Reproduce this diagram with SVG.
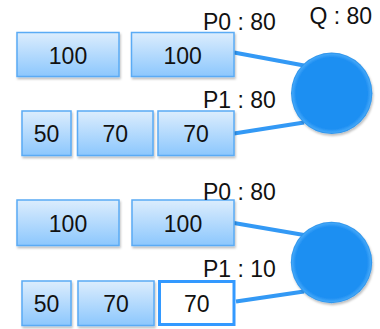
<svg xmlns="http://www.w3.org/2000/svg" width="380" height="329" viewBox="0 0 380 329">
  <defs>
    <linearGradient id="boxFill" x1="0" y1="0" x2="0" y2="1">
      <stop offset="0" stop-color="#dcedfd"/>
      <stop offset="1" stop-color="#8cc7fd"/>
    </linearGradient>
    <radialGradient id="ballFill" cx="0.5" cy="0.5" r="0.5">
      <stop offset="0" stop-color="#1f8ff2"/>
      <stop offset="0.88" stop-color="#1f8ff2"/>
      <stop offset="0.96" stop-color="#3fa5f8"/>
      <stop offset="1" stop-color="#2a8fe6"/>
    </radialGradient>
    <filter id="shadow" x="-20%" y="-20%" width="140%" height="150%">
      <feDropShadow dx="1" dy="2" stdDeviation="1.2" flood-color="#000" flood-opacity="0.25"/>
    </filter>
  </defs>
  <style>
    .box { fill: url(#boxFill); stroke: #5aabf5; stroke-width: 1.5; filter: url(#shadow); }
    .box-empty { fill: #ffffff; stroke: #3399ff; stroke-width: 3; }
    .ball { fill: url(#ballFill); filter: url(#shadow); }
    .val { font-family: "Liberation Sans", Arial, sans-serif; font-size: 23px; fill: #111; text-anchor: middle; }
    .lbl { font-family: "Liberation Sans", Arial, sans-serif; font-size: 23px; fill: #111; }
    .link { stroke: #3399f5; stroke-width: 4; fill: none; }
  </style>

  <!-- connectors -->
  <g id="connectors">
    <line class="link" x1="234" y1="52.5" x2="304" y2="65.5"/>
    <line class="link" x1="234" y1="133.5" x2="304" y2="122.5"/>
    <line class="link" x1="234" y1="223" x2="304" y2="235"/>
    <line class="link" x1="236" y1="301.5" x2="304" y2="291.5"/>
  </g>

  <!-- upper state -->
  <g id="top-a1"><rect class="box" x="17" y="32.5" width="102" height="44"/><text class="val" x="68" y="63.5">100</text></g>
  <g id="top-a2"><rect class="box" x="131.5" y="32.5" width="102.5" height="44"/><text class="val" x="182.7" y="63.5">100</text></g>
  <g id="top-b1"><rect class="box" x="22" y="111" width="49" height="44.5"/><text class="val" x="46.5" y="142">50</text></g>
  <g id="top-b2"><rect class="box" x="77.5" y="111" width="75.5" height="44.5"/><text class="val" x="115.2" y="142">70</text></g>
  <g id="top-b3"><rect class="box" x="158" y="111" width="76" height="44.5"/><text class="val" x="196" y="142">70</text></g>
  <g id="top-q"><circle class="ball" cx="331.7" cy="93.3" r="40.7"/></g>
  <g id="top-labels">
    <text class="lbl" x="203" y="29.5">P0 : 80</text>
    <text class="lbl" x="309.5" y="24">Q : 80</text>
    <text class="lbl" x="203" y="107.5">P1 : 80</text>
  </g>

  <!-- lower state -->
  <g id="bot-a1"><rect class="box" x="17" y="200" width="102" height="45.5"/><text class="val" x="68" y="231.5">100</text></g>
  <g id="bot-a2"><rect class="box" x="132" y="200" width="102" height="45.5"/><text class="val" x="183" y="231.5">100</text></g>
  <g id="bot-b1"><rect class="box" x="22" y="281" width="49" height="44.5"/><text class="val" x="46.5" y="312">50</text></g>
  <g id="bot-b2"><rect class="box" x="78" y="281" width="76" height="44.5"/><text class="val" x="116" y="312">70</text></g>
  <g id="bot-b3"><rect class="box-empty" x="159.5" y="281.5" width="74.5" height="43"/><text class="val" x="196.7" y="312">70</text></g>
  <g id="bot-q"><circle class="ball" cx="331.5" cy="262.5" r="40.7"/></g>
  <g id="bot-labels">
    <text class="lbl" x="203" y="200">P0 : 80</text>
    <text class="lbl" x="203" y="276.5">P1 : 10</text>
  </g>
</svg>
